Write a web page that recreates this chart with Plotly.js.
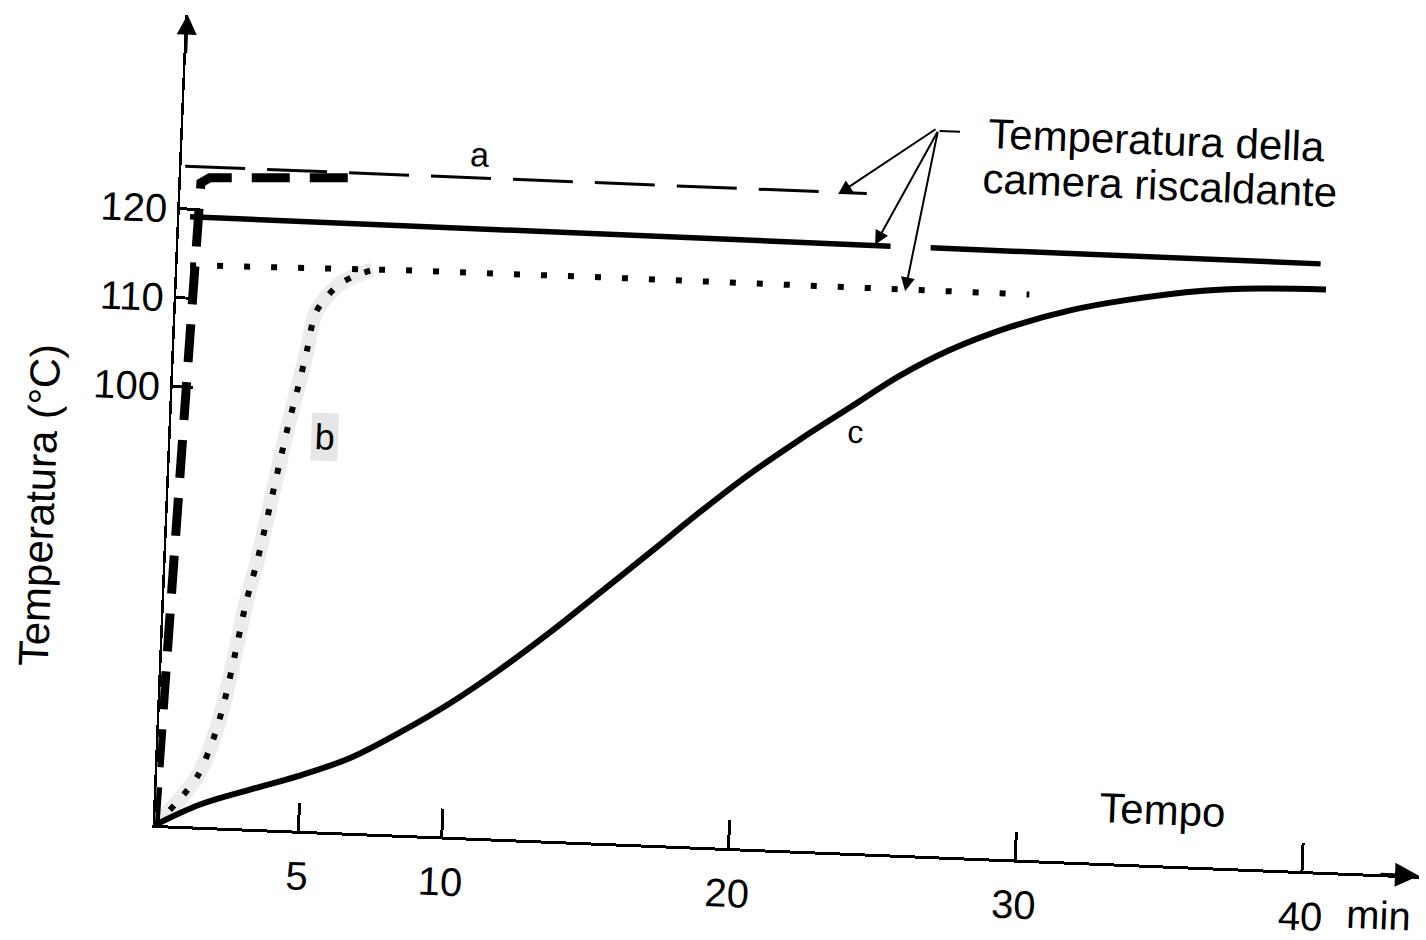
<!DOCTYPE html>
<html><head><meta charset="utf-8">
<script src="https://cdn.plot.ly/plotly-3.0.1.min.js"></script>
<style>
html,body{margin:0;padding:0;background:#fff;overflow:hidden;}
#chart{position:absolute;left:0;top:0;width:1426px;height:940px;transform:rotate(2.3deg);transform-origin:155px 825px;}
</style></head><body><div id="chart"></div>
<script>
// time in minutes, temperature in °C
const curveC_t = [0,1.54,3.26,4.88,6.70,8.40,10.10,11.79,13.48,15.17,16.85,18.54,20.22,21.92,23.61,25.31,27.01,29.11,31.14,33.07,35.74,37.72,40.02];
const curveC_T = [50.7,53.2,55.1,56.8,59.1,62.2,65.7,69.7,74.1,78.8,83.5,88.3,92.8,96.9,100.7,104.5,107.6,110.5,112.6,114.0,115.4,115.9,116.1];
const curveB_t = [0,0.67,1.40,1.90,2.23,2.60,2.86,3.21,4.07,4.37,4.63,4.86,5.22,5.69,6.23,6.81];
const curveB_T = [50.7,53.1,56.3,60.5,64.7,71.2,76.1,81.1,96.0,100.5,104.7,108.8,110.7,112.3,113.3,114.0];
const curveA_t = [0,0.6,0.7,1.0,6.3];
const curveA_T = [50.7,118,123.0,123.6,124.3];
const chamberA_t = [0.13,23.9];
const chamberA_T = [124.8,124.8];
const chamberC_t = [0.37,24.8,null,26.2,39.8];
const chamberC_T = [119.15,119.0,null,119.0,118.95];
const chamberB_t = [0.44,7.9,14.7,25.2,29.7];
const chamberB_T = [113.7,114.1,114.2,114.1,114.2];
const xTicks = [5,10,20,30,40];
const xTickText = ['5','10','20','30','40'];
const yTicks = [100,110,120];
const yTickText = ['100','110','120'];

const FONT = 'Liberation Sans, Arial, Helvetica, sans-serif';
const traces = [
  {x:curveB_t, y:curveB_T, mode:'lines', line:{color:'#ececec', width:15, shape:'spline', smoothing:0.8}, hoverinfo:'skip'},
  {x:chamberA_t, y:chamberA_T, mode:'lines', line:{color:'#000', width:3, dash:'60px,22px'}},
  {x:curveA_t, y:curveA_T, mode:'lines', line:{color:'#000', width:9, dash:'38px,20px'}},
  {x:chamberC_t, y:chamberC_T, mode:'lines', connectgaps:false, line:{color:'#000', width:5.5}},
  {x:chamberB_t, y:chamberB_T, mode:'lines', line:{color:'#000', width:6, dash:'6px,21px'}},
  {x:curveB_t, y:curveB_T, mode:'lines', line:{color:'#000', width:6, dash:'6px,15px', shape:'spline', smoothing:0.8}},
  {x:curveC_t, y:curveC_T, mode:'lines', line:{color:'#000', width:6, shape:'spline', smoothing:1.0}}
];

function arrow(hx, hy, ax, ay, head){
  return {x:hx, y:hy, xref:'x', yref:'y', ax:ax, ay:ay, text:'', showarrow:true,
          arrowhead:head, arrowsize:1.4, arrowwidth:2, arrowcolor:'#000'};
}

const layout = {
  width:1426, height:940,
  margin:{l:155, r:6, t:14, b:115},
  paper_bgcolor:'#fff', plot_bgcolor:'rgba(0,0,0,0)',
  showlegend:false,
  font:{family:FONT, color:'#000', size:40},
  xaxis:{range:[0,44.08], showgrid:false, zeroline:false, showline:true, linecolor:'#000', linewidth:3,
         tickmode:'array', tickvals:xTicks, ticktext:xTickText, ticks:'inside', ticklen:28, tickwidth:3,
         tickcolor:'#000', tickfont:{size:40, family:FONT, color:'#000'}, ticklabelstandoff:8},
  yaxis:{range:[50.7,141.82], showgrid:false, zeroline:false, showline:true, linecolor:'#000', linewidth:2.5,
         tickmode:'array', tickvals:yTicks, ticktext:yTickText, ticks:'inside', ticklen:20, tickwidth:3,
         tickcolor:'#000', tickfont:{size:40, family:FONT, color:'#000'}, ticklabelstandoff:2},
  annotations:[
    {xref:'paper', yref:'paper', x:0, y:1, ax:0, ay:40, text:'', showarrow:true, arrowhead:2, arrowsize:1.6, arrowwidth:2.5, arrowcolor:'#000'},
    {xref:'paper', yref:'paper', x:1, y:0, ax:-40, ay:0, text:'', showarrow:true, arrowhead:2, arrowsize:1.6, arrowwidth:3, arrowcolor:'#000'},
    {x:10.38, y:127.4, text:'a', showarrow:false, font:{size:34}},
    {x:5.38, y:95.05, text:'b', showarrow:false, font:{size:36}, bgcolor:'#e6e6e6', borderpad:3},
    {x:23.82, y:98.0, text:'c', showarrow:false, font:{size:32}},
    {x:35.04, y:56.94, text:'Tempo', showarrow:false, font:{size:42}},
    {x:33.93, y:132.14, text:'Temperatura della', showarrow:false, font:{size:42}},
    {x:34.1, y:127.1, text:'camera riscaldante', showarrow:false, font:{size:42}},
    {xref:'paper', yref:'paper', x:-0.101, y:0.3885, xanchor:'center', yanchor:'middle', text:'Temperatura (°C)', textangle:-90, showarrow:false, font:{size:42}},
    {x:42.72, xref:'x', yref:'paper', y:-0.05, yanchor:'middle', text:'min', showarrow:false, font:{size:40}},
    arrow(22.9, 124.6, 96.3, -69.9, 2),
    arrow(24.26, 119.1, 58.4, -116.4, 2),
    arrow(25.37, 114.0, 26.5, -162.2, 2),
    arrow(27.06, 132.16, -22, 0, 0)
  ]
};

Plotly.newPlot('chart', traces, layout, {staticPlot:true, displayModeBar:false});
</script>
</body></html>
